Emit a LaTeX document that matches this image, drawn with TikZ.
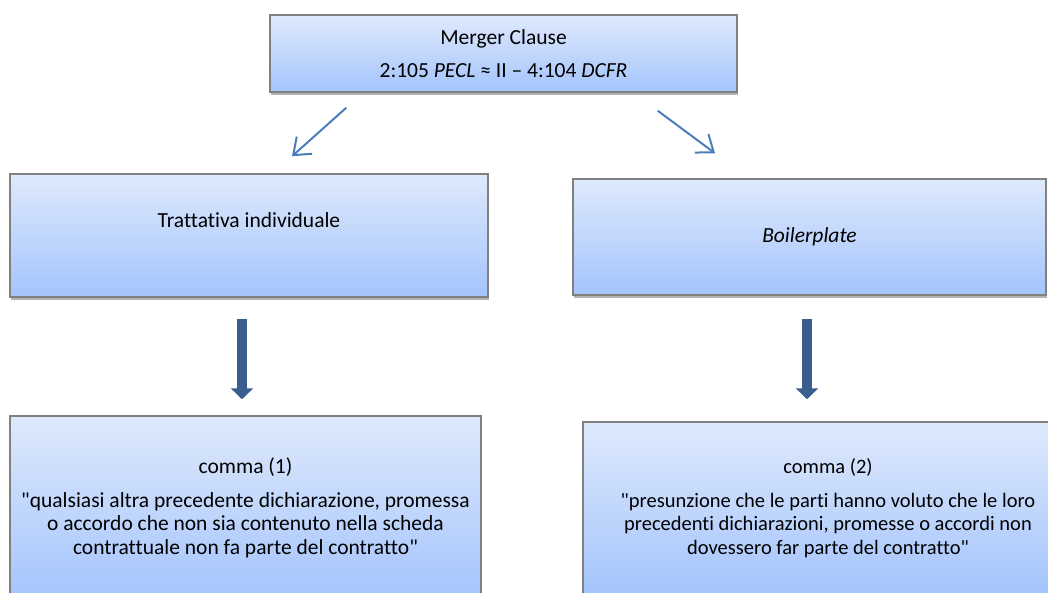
\documentclass[tikz,border=0pt]{standalone}
\usepackage{fontspec}
\setmainfont{Carlito}[Ligatures={TeX,NoCommon}]
\usepackage{tikz}
\usetikzlibrary{positioning,arrows.meta,shadows,calc}

\definecolor{boxtop}{RGB}{222,233,252}
\definecolor{boxbottom}{RGB}{164,196,252}
\definecolor{boxline}{RGB}{128,128,128}
\definecolor{thinblue}{RGB}{74,126,187}
\definecolor{thickblue}{RGB}{58,95,142}

\tikzset{
  box/.style={draw=boxline, line width=1.5pt, top color=boxtop, bottom color=boxbottom,
    align=center, font=\fontsize{21.5}{23.5}\selectfont,
    drop shadow={shadow xshift=1pt, shadow yshift=-3pt, opacity=0.3, fill=black}},
  thinarrow/.style={draw=thinblue, line width=2pt, -{Straight Barb[length=15pt,width=23pt]}},
  blockarrow/.style={draw=thickblue, line width=10pt, -{Triangle[width=22pt,length=11pt]}}
}

\begin{document}
\begin{tikzpicture}[x=1pt,y=-1pt]
  \useasboundingbox (0,0) rectangle (1048,592);
  \clip (0,0) rectangle (1048,592);
  % Boxes
  \node[box, minimum width=467pt, minimum height=77pt] (clause) at (503.5,53.5)
    {Merger Clause\\[9pt]2:105 \textit{PECL} ≈ II – 4:104 \textit{DCFR}};
  \node[box, minimum width=478pt, minimum height=123pt] (trattativa) at (249,235.5)
    {Trattativa individuale\\[8pt]~};
  \node[box, minimum width=473pt, minimum height=116pt] (boiler) at (809.5,237)
    {\textit{Boilerplate}};
  \node[box, minimum width=471pt, minimum height=184pt] (comma1) at (245.5,508)
    {comma (1)\\[10pt]\textquotedbl qualsiasi altra precedente dichiarazione, promessa\\
     o accordo che non sia contenuto nella scheda\\
     contrattuale non fa parte del contratto\textquotedbl};
  \node[box, minimum width=490pt, minimum height=172pt, font=\fontsize{20.5}{23.5}\selectfont]
    (comma2) at (828,508)
    {comma (2)\\[10pt]\textquotedbl presunzione che le parti hanno voluto che le loro\\
     precedenti dichiarazioni, promesse o accordi non\\
     dovessero far parte del contratto\textquotedbl};
  % Thin arrows
  \draw[thinarrow] ($(clause.south west)+(77,15)$) -- ($(trattativa.north)+(43,-17)$);
  \draw[thinarrow] ($(clause.south east)+(-80,18)$) -- ($(boiler.north)+(-94.5,-25)$);
  % Block arrows
  \draw[blockarrow] ($(trattativa.south)+(-7,21)$) -- ($(comma1.north)+(-3.5,-16)$);
  \draw[blockarrow] ($(boiler.south)+(-2.5,23)$) -- ($(comma2.north)+(-21,-22)$);
\end{tikzpicture}
\end{document}
